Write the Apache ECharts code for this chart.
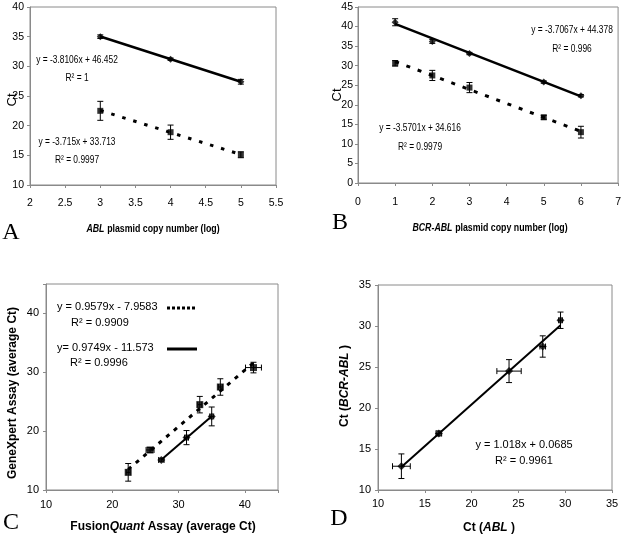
<!DOCTYPE html>
<html><head><meta charset="utf-8">
<script src="https://cdn.jsdelivr.net/npm/echarts@6/dist/echarts.min.js"></script>
<style>html,body{margin:0;padding:0;background:#fff}#c{width:624px;height:535px}</style>
</head><body><div id="c"></div>
<script>
// ---- Panel A: ABL plasmid standard curves
const aX = [3, 4, 5];
const aSolidY = [35.0, 31.2, 27.4];
const aSolidErr = [0.3, 0.2, 0.4];
const aDashY = [22.5, 18.9, 15.1];
const aDashErr = [1.6, 1.2, 0.5];
const aSolidFit = [-3.8106, 46.452];
const aDashFit = [-3.715, 33.713];
// ---- Panel B: BCR-ABL plasmid standard curves
const bX = [1, 2, 3, 5, 6];
const bSolidY = [41.1, 36.2, 33.1, 25.8, 22.3];
const bSolidErr = [0.9, 0.5, 0.3, 0.3, 0.3];
const bDashY = [30.6, 27.5, 24.4, 16.8, 13.0];
const bDashErr = [0.7, 1.3, 1.3, 0.5, 1.5];
const bSolidFit = [-3.7067, 44.378];
const bDashFit = [-3.5701, 34.616];
// ---- Panel C: GeneXpert vs FusionQuant
const cDashX = [22.4, 25.7, 33.2, 36.3, 41.3];
const cDashY = [13.0, 16.8, 24.5, 27.5, 30.8];
const cDashXErr = [0.3, 0.6, 0.3, 0.3, 1.2];
const cDashYErr = [1.5, 0.4, 1.4, 1.4, 0.9];
const cSolidX = [27.4, 31.2, 35.0];
const cSolidY = [15.1, 18.9, 22.5];
const cSolidXErr = [0.4, 0.3, 0.3];
const cSolidYErr = [0.3, 1.2, 1.6];
const cDashFit = [0.9579, -7.9583];
const cSolidFit = [0.9749, -11.573];
// ---- Panel D: Ct(BCR-ABL) vs Ct(ABL)
const dX = [12.5, 16.5, 24.0, 27.6, 29.5];
const dY = [12.9, 16.9, 24.5, 27.5, 30.7];
const dXErr = [0.95, 0.3, 1.3, 0.3, 0.2];
const dYErr = [1.5, 0.3, 1.4, 1.3, 1.0];
const dFit = [1.018, 0.0685];

const ARIAL = "'Liberation Sans',Arial,sans-serif";
const SERIF = "'Liberation Serif','Times New Roman',serif";
const GRAY = '#8a8a8a';
const NARROWX = 0.8;

function pts(xs, ys) { return xs.map((x, i) => [x, ys[i]]); }
function errData(xs, ys, ex, ey) { return xs.map((x, i) => [x, ys[i], ex ? ex[i] : 0, ey ? ey[i] : 0]); }
function fitLine(xs, fit) {
  const x0 = Math.min.apply(null, xs), x1 = Math.max.apply(null, xs);
  return [[x0, fit[0] * x0 + fit[1]], [x1, fit[0] * x1 + fit[1]]];
}
function errRender(params, api) {
  const x = api.value(0), y = api.value(1), ex = api.value(2), ey = api.value(3);
  const ch = [];
  const st = { stroke: '#000', lineWidth: 1 };
  const cap = 3;
  if (ey > 0) {
    const p1 = api.coord([x, y - ey]), p2 = api.coord([x, y + ey]);
    ch.push({ type: 'line', shape: { x1: p1[0], y1: p1[1], x2: p2[0], y2: p2[1] }, style: st });
    ch.push({ type: 'line', shape: { x1: p1[0] - cap, y1: p1[1], x2: p1[0] + cap, y2: p1[1] }, style: st });
    ch.push({ type: 'line', shape: { x1: p2[0] - cap, y1: p2[1], x2: p2[0] + cap, y2: p2[1] }, style: st });
  }
  if (ex > 0) {
    const p1 = api.coord([x - ex, y]), p2 = api.coord([x + ex, y]);
    ch.push({ type: 'line', shape: { x1: p1[0], y1: p1[1], x2: p2[0], y2: p2[1] }, style: st });
    ch.push({ type: 'line', shape: { x1: p1[0], y1: p1[1] - cap, x2: p1[0], y2: p1[1] + cap }, style: st });
    ch.push({ type: 'line', shape: { x1: p2[0], y1: p2[1] - cap, x2: p2[0], y2: p2[1] + cap }, style: st });
  }
  return { type: 'group', children: ch };
}
function errSeries(gi, data) {
  return { type: 'custom', xAxisIndex: gi, yAxisIndex: gi, data: data, renderItem: errRender,
    encode: { x: 0, y: 1 }, z: 3, silent: true, clip: false };
}
function fitSeries(gi, data, dashed, dash, w) {
  return { type: 'line', xAxisIndex: gi, yAxisIndex: gi, data: data, showSymbol: false, silent: true,
    lineStyle: { color: '#000', width: w, type: dashed ? dash : 'solid', cap: 'butt' }, z: 2 };
}
function ptSeries(gi, data, sym, size) {
  return { type: 'scatter', xAxisIndex: gi, yAxisIndex: gi, data: data, symbol: sym, symbolSize: size,
    itemStyle: { color: '#000' }, z: 4, silent: true };
}
function axis(gi, min, max, interval, size, margin, fmt) {
  return { type: 'value', gridIndex: gi, min: min, max: max, interval: interval,
    axisLine: { show: true, lineStyle: { color: GRAY, width: 1 } },
    axisTick: { show: true, length: 3, lineStyle: { color: GRAY } },
    splitLine: { show: false },
    axisLabel: { color: '#000', fontFamily: ARIAL, fontSize: size, margin: margin, formatter: fmt } };
}
const hide45 = v => (v % 10 === 0 ? String(v) : '');

function txt(x, y, text, font, align, sx) {
  const o = { type: 'text', x: x, y: y, silent: true,
    style: { text: text, font: font, align: align || 'center', verticalAlign: 'middle', fill: '#000' } };
  if (sx) o.scaleX = sx;
  return o;
}
function richTxt(x, y, text, rich, rot, sx) {
  const o = { type: 'text', x: x, y: y, silent: true,
    style: { text: text, rich: rich, align: 'center', verticalAlign: 'middle', fill: '#000' } };
  if (rot) o.rotation = rot;
  if (sx) o.scaleX = sx;
  return o;
}
const richAB = {
  i: { fontFamily: ARIAL, fontSize: 11, fontWeight: 'bold', fontStyle: 'italic' },
  n: { fontFamily: ARIAL, fontSize: 11, fontWeight: 'bold' } };
const richCD = {
  b: { fontFamily: ARIAL, fontSize: 12, fontWeight: 'bold' },
  bi: { fontFamily: ARIAL, fontSize: 12, fontWeight: 'bold', fontStyle: 'italic' } };

const chart = echarts.init(document.getElementById('c'), null, { renderer: 'canvas' });
const gridStyle = { show: true, borderColor: GRAY, borderWidth: 1, backgroundColor: 'transparent' };
const EQ = '10.5px ' + ARIAL;
const option = {
  animation: false,
  grid: [
    Object.assign({ left: 30, top: 7, width: 246, height: 178 }, gridStyle),
    Object.assign({ left: 358, top: 7, width: 262, height: 176 }, gridStyle),
    Object.assign({ left: 46, top: 284, width: 232, height: 206 }, gridStyle),
    Object.assign({ left: 378, top: 285, width: 234, height: 205 }, gridStyle)
  ],
  xAxis: [
    axis(0, 2, 5.5, 0.5, 10.5, 13),
    axis(1, 0, 7, 1, 10.5, 14),
    axis(2, 10, 45, 10, 11, 9, hide45),
    axis(3, 10, 35, 5, 11, 8)
  ],
  yAxis: [
    axis(0, 10, 40, 5, 10.5, 6),
    axis(1, 0, 45, 5, 10.5, 5),
    axis(2, 10, 45, 10, 11, 7, hide45),
    axis(3, 10, 35, 5, 11, 7)
  ],
  series: [
    // A
    fitSeries(0, fitLine(aX, aSolidFit), false, null, 2.5),
    fitSeries(0, fitLine(aX, aDashFit), true, [3.5, 8], 3),
    errSeries(0, errData(aX, aSolidY, null, aSolidErr)),
    errSeries(0, errData(aX, aDashY, null, aDashErr)),
    ptSeries(0, pts(aX, aSolidY), 'diamond', 7),
    ptSeries(0, pts(aX, aDashY), 'rect', 6),
    // B
    fitSeries(1, fitLine(bX, bSolidFit), false, null, 2.5),
    fitSeries(1, fitLine(bX, bDashFit), true, [4, 8], 3),
    errSeries(1, errData(bX, bSolidY, null, bSolidErr)),
    errSeries(1, errData(bX, bDashY, null, bDashErr)),
    ptSeries(1, pts(bX, bSolidY), 'diamond', 7),
    ptSeries(1, pts(bX, bDashY), 'rect', 6),
    // C
    fitSeries(2, fitLine(cDashX, cDashFit), true, [4, 6], 3),
    fitSeries(2, fitLine(cSolidX, cSolidFit), false, null, 2),
    errSeries(2, errData(cDashX, cDashY, cDashXErr, cDashYErr)),
    errSeries(2, errData(cSolidX, cSolidY, cSolidXErr, cSolidYErr)),
    ptSeries(2, pts(cDashX, cDashY), 'rect', 7),
    ptSeries(2, pts(cSolidX, cSolidY), 'diamond', 8),
    // D
    fitSeries(3, fitLine(dX, dFit), false, null, 2),
    errSeries(3, errData(dX, dY, dXErr, dYErr)),
    ptSeries(3, pts(dX, dY), 'diamond', 8)
  ],
  graphic: [
    // panel letters
    txt(11, 233, 'A', '24px ' + SERIF),
    txt(340, 223, 'B', '24px ' + SERIF),
    txt(11, 523, 'C', '24px ' + SERIF),
    txt(339, 519, 'D', '24px ' + SERIF),
    // A texts
    txt(77, 60, 'y = -3.8106x + 46.452', EQ, 'center', NARROWX),
    txt(77, 78, 'R² = 1', EQ, 'center', NARROWX),
    txt(77, 142, 'y = -3.715x + 33.713', EQ, 'center', NARROWX),
    txt(77, 160, 'R² = 0.9997', EQ, 'center', NARROWX),
    richTxt(153, 229, '{i|ABL} {n|plasmid copy number (log)}', richAB, 0, NARROWX),
    richTxt(12, 100, '{n|Ct}', { n: { fontFamily: ARIAL, fontSize: 13 } }, Math.PI / 2),
    // B texts
    txt(572, 30, 'y = -3.7067x + 44.378', EQ, 'center', NARROWX),
    txt(572, 49, 'R² = 0.996', EQ, 'center', NARROWX),
    txt(420, 128, 'y = -3.5701x + 34.616', EQ, 'center', NARROWX),
    txt(420, 147, 'R² = 0.9979', EQ, 'center', NARROWX),
    richTxt(490, 228, '{i|BCR-ABL} {n|plasmid copy number (log)}', richAB, 0, NARROWX),
    richTxt(337, 95, '{n|Ct}', { n: { fontFamily: ARIAL, fontSize: 13 } }, Math.PI / 2),
    // C texts
    txt(57, 307, 'y = 0.9579x - 7.9583', '11px ' + ARIAL, 'left'),
    txt(71, 323, 'R² = 0.9909', '11px ' + ARIAL, 'left'),
    txt(57, 348, 'y= 0.9749x - 11.573', '11px ' + ARIAL, 'left'),
    txt(70, 363, 'R² = 0.9996', '11px ' + ARIAL, 'left'),
    { type: 'line', silent: true, shape: { x1: 167, y1: 308, x2: 197, y2: 308 },
      style: { stroke: '#000', lineWidth: 3, lineDash: [3, 2] } },
    { type: 'line', silent: true, shape: { x1: 167, y1: 349, x2: 197, y2: 349 },
      style: { stroke: '#000', lineWidth: 3 } },
    richTxt(163, 527, '{b|Fusion}{bi|Quant}{b| Assay (average Ct)}', richCD),
    richTxt(13, 393, '{b|GeneXpert Assay (average Ct)}', richCD, Math.PI / 2),
    // D texts
    txt(524, 445, 'y = 1.018x + 0.0685', '11px ' + ARIAL),
    txt(524, 461, 'R² = 0.9961', '11px ' + ARIAL),
    richTxt(489, 528, '{b|Ct (}{bi|ABL}{b| )}', richCD),
    richTxt(345, 386, '{b|Ct (}{bi|BCR-ABL}{b| )}', richCD, Math.PI / 2)
  ]
};
chart.setOption(option);
</script>
</body></html>
